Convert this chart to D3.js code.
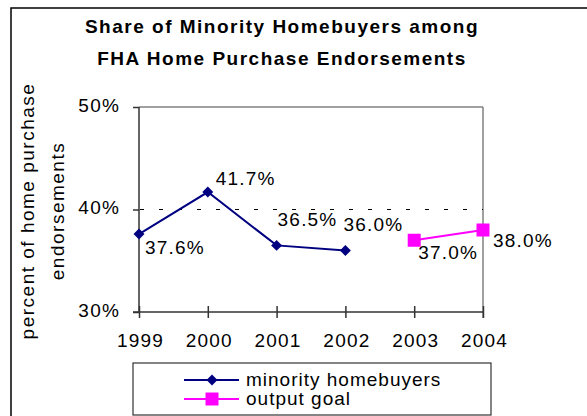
<!DOCTYPE html>
<html>
<head>
<meta charset="utf-8">
<script src="https://cdn.jsdelivr.net/npm/d3@7"></script>
<style>
  html, body { margin: 0; padding: 0; background: #fff; }
  svg { display: block; }
  text { font-family: "Liberation Sans", Arial, sans-serif; fill: #000; }
</style>
</head>
<body>
<svg id="chart" width="587" height="416"></svg>
<script>
// ---- data ----
const years = ["1999", "2000", "2001", "2002", "2003", "2004"];
const minorityYears = ["1999", "2000", "2001", "2002"];
const minorityValues = [37.6, 41.7, 36.5, 36.0];
const goalYears = ["2003", "2004"];
const goalValues = [37.0, 38.0];
const yTicks = [30, 40, 50];
const titleLines = ["Share of Minority Homebuyers among", "FHA Home Purchase Endorsements"];
const yTitleLines = ["percent of home purchase", "endorsements"];
const seriesNames = ["minority homebuyers", "output goal"];

// label placement (layout only): dx, dy relative to point
const minorityLabelPos = [[6, 20], [8, -7], [1, -19], [-2, -20]];
const goalLabelPos = [[4, 19], [10, 17]];

const svg = d3.select("#chart");
const pLeft = 139, pRight = 483, pTop = 107, pBottom = 312;

const x = d3.scalePoint().domain(years).range([pLeft, pRight]).padding(0);
const y = d3.scaleLinear().domain([30, 50]).range([pBottom, pTop]);

const NAVY = "#000080", MAG = "#FF00FF";
const FS = "19px";
const LS = "1.2px";

// outer frame (extends past right/bottom edge)
svg.append("rect").attr("x", 11).attr("y", 8).attr("width", 620).attr("height", 440)
  .attr("fill", "none").attr("stroke", "#000").attr("stroke-width", 1.5);

// title
svg.selectAll(".title").data(titleLines).enter().append("text")
  .attr("x", 282).attr("y", (d, i) => 33 + i * 32)
  .attr("text-anchor", "middle")
  .style("font-size", FS).style("font-weight", "bold").style("letter-spacing", "1.5px")
  .text(d => d);

// y title
svg.selectAll(".ytitle").data(yTitleLines).enter().append("text")
  .attr("transform", (d, i) => `translate(${34 + i * 30},211) rotate(-90)`)
  .attr("text-anchor", "middle")
  .style("font-size", FS).style("letter-spacing", "1.5px")
  .text(d => d);

// plot border top/right (gray)
svg.append("line").attr("x1", pLeft).attr("x2", pRight).attr("y1", pTop).attr("y2", pTop)
  .attr("stroke", "#808080").attr("stroke-width", 1.5);
svg.append("line").attr("x1", pRight).attr("x2", pRight).attr("y1", pTop).attr("y2", pBottom + 6)
  .attr("stroke", "#808080").attr("stroke-width", 1.5);

// gridline at 40%
svg.append("line").attr("x1", pLeft).attr("x2", pRight).attr("y1", y(40)).attr("y2", y(40))
  .attr("stroke", "#000").attr("stroke-width", 1).attr("stroke-dasharray", "4,15")
  .attr("stroke-dashoffset", -1);

// y axis
const yAxis = svg.append("g").attr("transform", `translate(${pLeft},0)`)
  .call(d3.axisLeft(y).tickValues(yTicks).tickSize(6).tickPadding(13).tickFormat(d => d + "%"));
yAxis.select(".domain").remove();
yAxis.selectAll(".tick line").attr("stroke", "#333").attr("stroke-width", 1.5);
yAxis.selectAll(".tick text").style("font-size", FS).style("letter-spacing", LS)
  .attr("dy", "4px").attr("font-family", null);

// x axis
const xAxis = svg.append("g").attr("transform", `translate(0,${pBottom})`)
  .call(d3.axisBottom(x).tickSize(6).tickPadding(16));
xAxis.select(".domain").remove();
xAxis.selectAll(".tick line").attr("y1", -6).attr("y2", 6).attr("stroke", "#333").attr("stroke-width", 1.5);
xAxis.selectAll(".tick text").style("font-size", FS).style("letter-spacing", LS)
  .attr("dx", "1px").attr("font-family", null);

// axis lines
svg.append("line").attr("x1", pLeft).attr("x2", pLeft).attr("y1", pTop).attr("y2", pBottom)
  .attr("stroke", "#333").attr("stroke-width", 1.5);
svg.append("line").attr("x1", pLeft - 6).attr("x2", pRight).attr("y1", pBottom).attr("y2", pBottom)
  .attr("stroke", "#333").attr("stroke-width", 1.5);

// series
const line = d3.line().x(d => x(d[0])).y(d => y(d[1]));
const minData = minorityYears.map((yr, i) => [yr, minorityValues[i]]);
const goalData = goalYears.map((yr, i) => [yr, goalValues[i]]);

svg.append("path").attr("d", line(minData)).attr("fill", "none")
  .attr("stroke", NAVY).attr("stroke-width", 2);
svg.append("path").attr("d", line(goalData)).attr("fill", "none")
  .attr("stroke", MAG).attr("stroke-width", 2);

const diamond = d3.symbol().type(d3.symbolSquare).size(60);
svg.selectAll(".mk1").data(minData).enter().append("path")
  .attr("d", diamond)
  .attr("transform", d => `translate(${x(d[0])},${y(d[1])}) rotate(45)`)
  .attr("fill", NAVY);
svg.selectAll(".mk2").data(goalData).enter().append("rect")
  .attr("x", d => x(d[0]) - 6.5).attr("y", d => y(d[1]) - 6.5)
  .attr("width", 13).attr("height", 13).attr("fill", MAG);

// data labels
svg.selectAll(".lb1").data(minData).enter().append("text")
  .attr("x", (d, i) => x(d[0]) + minorityLabelPos[i][0])
  .attr("y", (d, i) => y(d[1]) + minorityLabelPos[i][1])
  .style("font-size", FS).style("letter-spacing", LS)
  .text(d => d[1].toFixed(1) + "%");
svg.selectAll(".lb2").data(goalData).enter().append("text")
  .attr("x", (d, i) => x(d[0]) + goalLabelPos[i][0])
  .attr("y", (d, i) => y(d[1]) + goalLabelPos[i][1])
  .style("font-size", FS).style("letter-spacing", LS)
  .text(d => d[1].toFixed(1) + "%");

// legend
const lg = svg.append("g");
lg.append("rect").attr("x", 133).attr("y", 363).attr("width", 358).attr("height", 52)
  .attr("fill", "#fff").attr("stroke", "#333").attr("stroke-width", 1.2);
const rows = [
  { name: seriesNames[0], color: NAVY, sym: "diamond", cy: 380 },
  { name: seriesNames[1], color: MAG, sym: "square", cy: 399 }
];
rows.forEach(r => {
  lg.append("line").attr("x1", 184).attr("x2", 239).attr("y1", r.cy).attr("y2", r.cy)
    .attr("stroke", r.color).attr("stroke-width", 2);
  if (r.sym === "diamond") {
    lg.append("path").attr("d", diamond).attr("transform", `translate(212,${r.cy}) rotate(45)`)
      .attr("fill", r.color);
  } else {
    lg.append("rect").attr("x", 212 - 6.5).attr("y", r.cy - 6.5).attr("width", 13).attr("height", 13)
      .attr("fill", r.color);
  }
  lg.append("text").attr("x", 246).attr("y", r.cy + 6)
    .style("font-size", FS).style("letter-spacing", "1px").text(r.name);
});
</script>
</body>
</html>
